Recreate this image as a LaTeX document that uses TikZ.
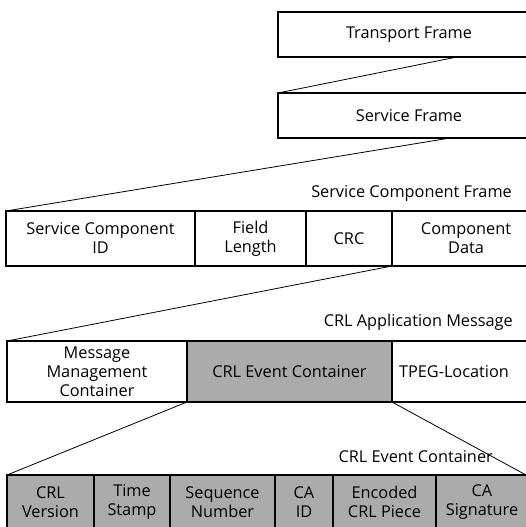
\documentclass[tikz,border=0pt]{standalone}
\usepackage{fontspec}
\setmainfont{Open Sans}
\usetikzlibrary{calc}

\begin{document}
\begin{tikzpicture}[x=1pt,y=-1pt,every node/.style={font=\fontsize{16.3}{19}\selectfont},
  box/.style={draw,line width=1.5pt,anchor=north west,inner sep=0pt,outer sep=0pt,align=center},
  shaded/.style={box,fill=black!33},
  link/.style={line width=0.8pt},
  caption/.style={anchor=east,inner sep=0pt}]
  \useasboundingbox (0,0) rectangle (526,527);
  % outer frames
  \node[box,minimum width=262,minimum height=45] (tf) at (278,12) {Transport Frame};
  \node[box,minimum width=262,minimum height=45] (sf) at (278,93) {Service Frame};
  % service component frame
  \node[caption] (scfcap) at (512,193) {Service Component Frame};
  \node[box,minimum width=189,minimum height=55] (scid) at (6,211) {Service Component\\ID};
  \node[box,minimum width=111,minimum height=55] (flen) at (195,211) {Field\\Length};
  \node[box,minimum width=86,minimum height=55] (crc) at (306,211) {CRC};
  \node[box,minimum width=148,minimum height=55] (cdata) at (392,211) {Component\\Data};
  % CRL application message
  \node[caption] (appcap) at (513,322) {CRL Application Message};
  \node[box,minimum width=180,minimum height=61] (mmc) at (7,341) {Message\\Management\\Container};
  \node[shaded,minimum width=205,minimum height=61] (cec) at (187,341) {CRL Event Container};
  \node[box,text width=134,align=left,inner xsep=7,minimum height=61] (tpeg) at (392,341) {TPEG-Location};
  % CRL event container
  \node[caption] (evcap) at (493,457) {CRL Event Container};
  \node[shaded,minimum width=87,minimum height=54] (ver) at (7,475) {CRL\\Version};
  \node[shaded,minimum width=76,minimum height=54] (stamp) at (94,475) {Time\\Stamp};
  \node[shaded,minimum width=105,minimum height=54] (seq) at (170,475) {Sequence\\Number};
  \node[shaded,minimum width=58,minimum height=54] (caid) at (275,475) {CA\\ID};
  \node[shaded,minimum width=103,minimum height=54] (piece) at (333,475) {Encoded\\CRL Piece};
  \node[shaded,minimum width=92,minimum height=54] (sig) at (436,475) {CA\\Signature};
  % expansion lines
  \draw[link] ($(tf.south west)+(179,0)$) -- (sf.north west);
  \draw[link] ($(sf.south west)+(172,0)$) -- (scid.north west);
  \draw[link] (crc.south east) -- (mmc.north west);
  \draw[link] (mmc.south east) -- (ver.north west);
  \draw[link] (cec.south east) -- ($(sig.north east)+(-2,0)$);
\end{tikzpicture}
\end{document}
